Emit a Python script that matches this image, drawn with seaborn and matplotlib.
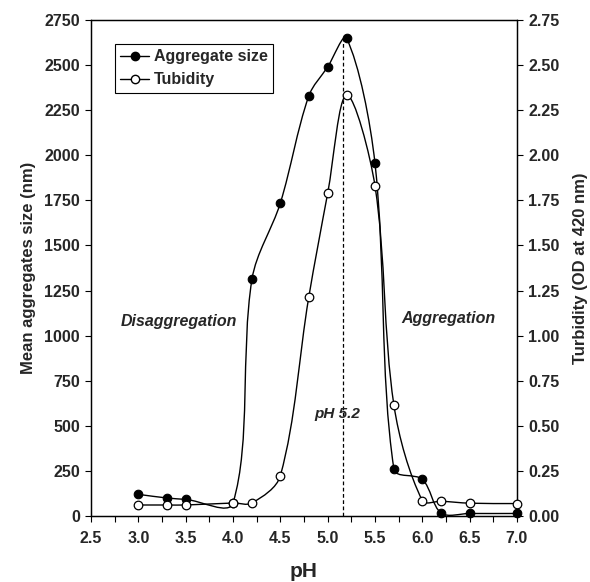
import matplotlib
matplotlib.use("Agg")
import matplotlib.pyplot as plt
import numpy as np
import seaborn as sns
from matplotlib.lines import Line2D
from matplotlib.path import Path
from matplotlib.patches import PathPatch
from matplotlib.ticker import FormatStrFormatter, MultipleLocator

# --- Data
ph_size = [3.0, 3.3, 3.5, 4.0, 4.2, 4.5, 4.8, 5.0, 5.2, 5.5, 5.7, 6.0, 6.2, 6.5, 7.0]
agg_size = [120, 100, 92, 72, 1312, 1735, 2328, 2490, 2648, 1955, 259, 203, 16, 14, 14]

ph_turb = [3.0, 3.3, 3.5, 4.0, 4.2, 4.5, 4.8, 5.0, 5.2, 5.5, 5.7, 6.0, 6.2, 6.5, 7.0]
turbidity = [0.061, 0.061, 0.061, 0.072, 0.072, 0.223, 1.212, 1.789, 2.334, 1.830,
             0.614, 0.085, 0.082, 0.071, 0.069]

peak_ph = 5.165
peak_top = 2665

sns.set_style("ticks")
plt.rcParams["font.family"] = ["Liberation Sans", "DejaVu Sans"]
plt.rcParams["font.weight"] = "bold"


def smooth_path(a, xs, ys):
    # Excel-like smoothed line: chord-length weighted Catmull-Rom -> cubic Bezier,
    # computed in screen space so both axes are treated alike
    trans = a.transData
    pts = trans.transform(np.column_stack([xs, ys]).astype(float))
    n = len(pts)
    verts = [pts[0]]
    codes = [Path.MOVETO]
    for i in range(n - 1):
        p0 = pts[i - 1] if i > 0 else pts[i]
        p1 = pts[i]
        p2 = pts[i + 1]
        p3 = pts[i + 2] if i + 2 < n else pts[i + 1]
        d01 = np.hypot(*(p1 - p0))
        d12 = np.hypot(*(p2 - p1))
        d23 = np.hypot(*(p3 - p2))
        t1 = (p2 - p0) / max(d01 + d12, 1e-9)
        t2 = (p3 - p1) / max(d12 + d23, 1e-9)
        verts += [p1 + t1 * d12 / 3, p2 - t2 * d12 / 3, p2]
        codes += [Path.CURVE4] * 3
    return Path(trans.inverted().transform(np.array(verts)), codes)


fig, ax = plt.subplots(figsize=(5.9, 5.82), dpi=100)
fig.subplots_adjust(left=91 / 590, right=517 / 590, top=1 - 20 / 582, bottom=1 - 516 / 582)
ax2 = ax.twinx()

# Axes limits and ticks (set first, the smoothing works in screen space)
ax.set_xlim(2.5, 7.0)
ax.set_ylim(0, 2750)
ax2.set_ylim(0, 2.75)
ax.xaxis.set_major_locator(MultipleLocator(0.5))
ax.xaxis.set_minor_locator(MultipleLocator(0.25))
ax.xaxis.set_major_formatter(FormatStrFormatter("%.1f"))
ax.yaxis.set_major_locator(MultipleLocator(250))
ax2.yaxis.set_major_locator(MultipleLocator(0.25))
ax2.yaxis.set_major_formatter(FormatStrFormatter("%.2f"))

# Smoothed lines
ax.add_patch(PathPatch(smooth_path(ax, ph_size, agg_size), facecolor="none",
                       edgecolor="black", lw=1.0, zorder=2, clip_on=False))
ax2.add_patch(PathPatch(smooth_path(ax2, ph_turb, turbidity), facecolor="none",
                        edgecolor="black", lw=1.0, zorder=2, clip_on=False))

# Markers
sns.scatterplot(x=ph_size, y=agg_size, ax=ax, color="black", edgecolor="black",
                s=38, linewidth=0.8, zorder=3, clip_on=False)
sns.scatterplot(x=ph_turb, y=turbidity, ax=ax2, color="white", edgecolor="black",
                s=38, linewidth=0.9, zorder=3, clip_on=False)

# Dashed line at the peak
ax.vlines(peak_ph, 0, peak_top, colors="black", linestyles=(0, (3, 2)), lw=0.9)

for a in (ax, ax2):
    a.tick_params(which="both", direction="out", length=4, width=0.8,
                  labelsize=11.5, color="black")
    for sp in a.spines.values():
        sp.set_linewidth(0.9)
        sp.set_color("black")
ax.tick_params(axis="x", pad=7)
ax.tick_params(axis="y", pad=4)
ax2.tick_params(axis="y", pad=4)
for lab in ax.get_xticklabels() + ax.get_yticklabels() + ax2.get_yticklabels():
    lab.set_fontweight("bold")

ax.set_xlabel("pH", fontsize=15, fontweight="bold", labelpad=11)
ax.set_ylabel("Mean aggregates size (nm)", fontsize=12, fontweight="bold", labelpad=6)
ax2.set_ylabel("Turbidity (OD at 420 nm)", fontsize=12, fontweight="bold", labelpad=10)

# Annotations
ax.text(3.43, 1076, "Disaggregation", fontsize=11.5, fontweight="bold",
        style="italic", ha="center", va="center")
ax.text(6.27, 1096, "Aggregation", fontsize=11.5, fontweight="bold",
        style="italic", ha="center", va="center")
ax.text(5.10, 564, "pH 5.2", fontsize=11, fontweight="bold",
        style="italic", ha="center", va="center")

# Legend
handles = [
    Line2D([], [], color="black", lw=1.0, marker="o", markersize=6,
           markerfacecolor="black", markeredgecolor="black"),
    Line2D([], [], color="black", lw=1.0, marker="o", markersize=6,
           markerfacecolor="white", markeredgecolor="black"),
]
leg = ax.legend(handles, ["Aggregate size", "Tubidity"], loc="upper left",
                bbox_to_anchor=(0.056, 0.952), borderaxespad=0, frameon=True,
                fancybox=False, edgecolor="black", framealpha=1,
                prop={"size": 11.5, "weight": "bold"}, handlelength=1.8,
                handletextpad=0.3, borderpad=0.35, labelspacing=0.5)
leg.get_frame().set_linewidth(0.8)
leg.set_zorder(5)

fig.savefig("out.png", dpi=100)
